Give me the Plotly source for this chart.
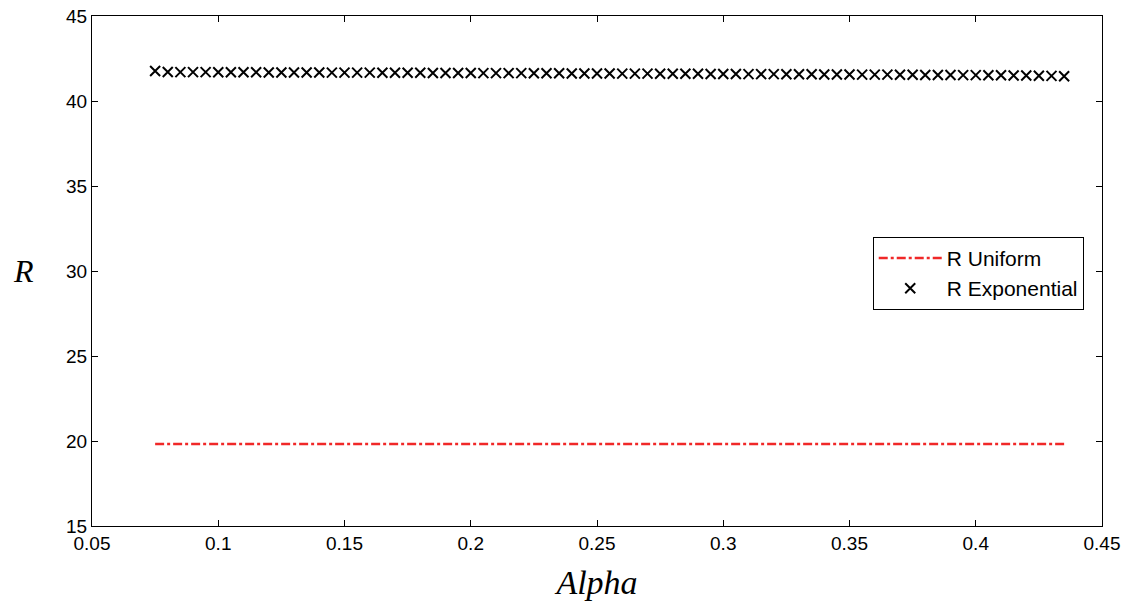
import plotly.graph_objects as go

alpha = [round(0.075 + 0.005 * i, 3) for i in range(73)]
r_exponential = [
    41.76, 41.71, 41.70, 41.70, 41.70, 41.69, 41.69, 41.69, 41.69, 41.68,
    41.68, 41.68, 41.68, 41.68, 41.67, 41.67, 41.67, 41.67, 41.66, 41.66,
    41.66, 41.66, 41.65, 41.65, 41.65, 41.65, 41.64, 41.64, 41.64, 41.64,
    41.63, 41.63, 41.63, 41.62, 41.62, 41.62, 41.62, 41.61, 41.61, 41.61,
    41.60, 41.60, 41.60, 41.60, 41.59, 41.59, 41.59, 41.58, 41.58, 41.58,
    41.57, 41.57, 41.57, 41.56, 41.56, 41.56, 41.55, 41.55, 41.55, 41.54,
    41.54, 41.53, 41.53, 41.53, 41.52, 41.52, 41.51, 41.51, 41.50, 41.50,
    41.49, 41.48, 41.46,
]
r_uniform = [19.82] * len(alpha)
x_ticks = [0.05, 0.1, 0.15, 0.2, 0.25, 0.3, 0.35, 0.4, 0.45]
x_labels = ["0.05", "0.1", "0.15", "0.2", "0.25", "0.3", "0.35", "0.4", "0.45"]
y_ticks = [15, 20, 25, 30, 35, 40, 45]

fig = go.Figure()
fig.add_trace(go.Scatter(
    x=alpha, y=r_uniform, mode="lines", name="R Uniform",
    line=dict(color="#f02828", width=2.5, dash="dashdot"),
))
fig.add_trace(go.Scatter(
    x=alpha, y=r_exponential, mode="markers", name="R Exponential",
    marker=dict(symbol="x-thin", size=10, line=dict(color="black", width=2), color="black"),
))

axis_common = dict(
    showgrid=False, zeroline=False, showline=True, linecolor="black", linewidth=1.2,
    mirror="allticks", ticks="inside", ticklen=6, tickcolor="black", automargin=False,
    tickfont=dict(family="Liberation Sans, Arial", size=19, color="black"),
)
fig.update_xaxes(range=[0.05, 0.45], tickvals=x_ticks, ticktext=x_labels,
                 title=dict(text="<i>Alpha</i>", font=dict(family="Liberation Serif, Times New Roman", size=34, color="black"), standoff=17),
                 **axis_common)
fig.update_yaxes(range=[15, 45], tickvals=y_ticks, **axis_common)
fig.add_annotation(xref="paper", yref="paper", x=-0.068, y=0.5, xanchor="center", yanchor="middle",
                   text="<i>R</i>", showarrow=False,
                   font=dict(family="Liberation Serif, Times New Roman", size=32, color="black"))
fig.update_layout(
    width=1130, height=605,
    margin=dict(l=92, r=28, t=16, b=79),
    plot_bgcolor="white", paper_bgcolor="white",
    legend=dict(x=0.773, y=0.567, xanchor="left", yanchor="top",
                bgcolor="white", bordercolor="black", borderwidth=1,
                font=dict(family="Liberation Sans, Arial", size=21, color="black"),
                tracegroupgap=0, itemwidth=63),
)
fig.write_html("out.html")
